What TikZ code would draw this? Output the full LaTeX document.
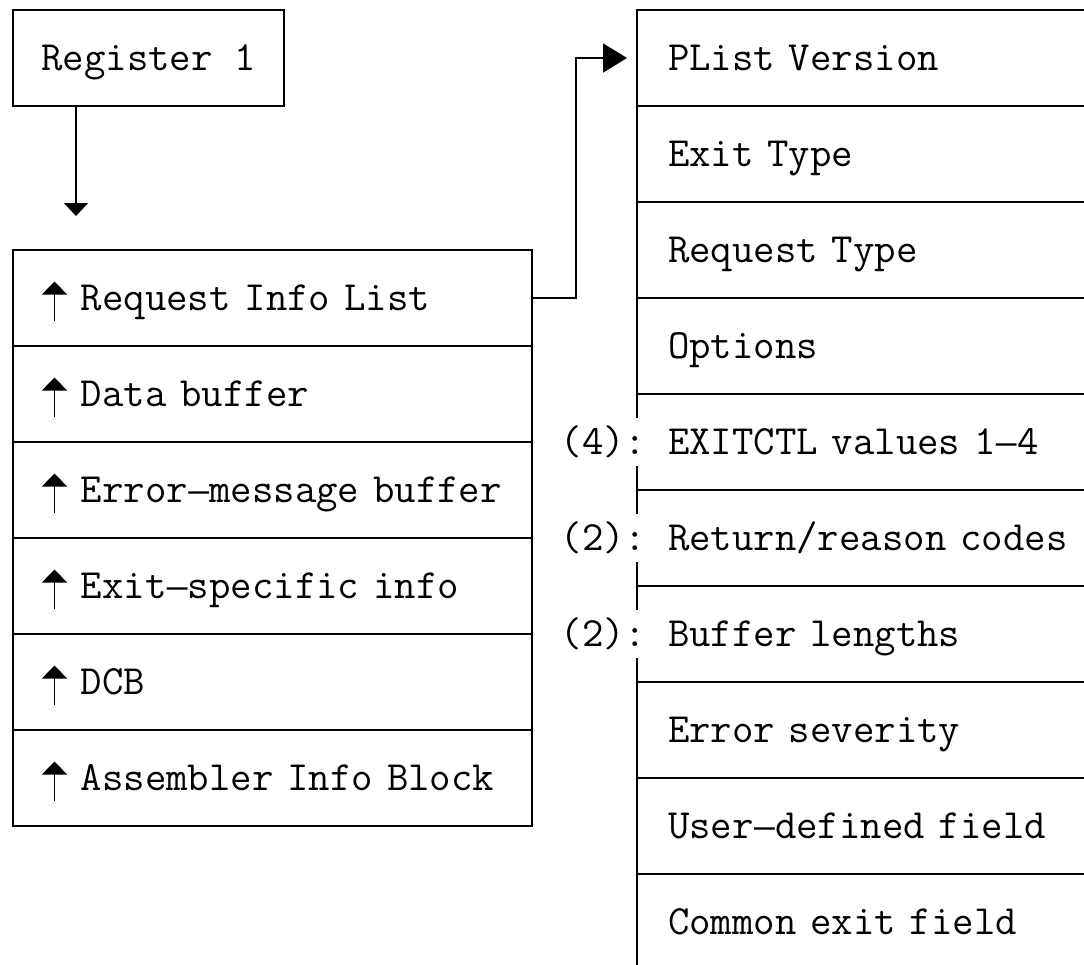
\documentclass[tikz,border=0pt]{standalone}
\usepackage{fontspec}
\usepackage{tikz}
\usetikzlibrary{arrows.meta, positioning}

\newfontfamily\dashfont{DejaVu Sans Mono}[Scale=0.83]
\newsavebox\ptrbox
\sbox\ptrbox{\tikz[baseline=0pt]\draw[line width=0.7pt, -{Triangle[width=12.5pt, length=6.5pt]}] (0,-5pt) -- (0,14.5pt);}
\newcommand{\uparr}{\makebox[2\fontcharwd\font`\a][l]{\hspace{2pt}\usebox\ptrbox}}
\newcommand{\mdash}{\makebox[\fontcharwd\font`\a]{\dashfont —}}

\begin{document}
\begin{tikzpicture}[x=0.5pt, y=-0.5pt, line width=1pt,
                font=\fontsize{20.8pt}{25pt}\selectfont\ttfamily,
                box/.style={draw, outer sep=0pt, minimum width=135.5pt,
                            minimum height=48pt, text height=12.5pt, text depth=0pt},
                lrow/.style={draw, outer sep=0pt, anchor=north west, minimum height=48pt,
                             text width=234.5pt, inner xsep=12.5pt, align=left,
                             text height=12.5pt, text depth=0pt},
                rrow/.style={draw, outer sep=0pt, anchor=north west, minimum height=48pt,
                             text width=209pt, inner xsep=15.5pt, align=left,
                             text height=12.5pt, text depth=0pt},
                count/.style={fill=white, anchor=east, inner xsep=0pt, inner ysep=5.75pt,
                              text height=12.5pt, text depth=0pt},
                ptr/.style={-{Triangle[width=12pt, length=6.5pt]}},
                bigptr/.style={-{Triangle[width=14.5pt, length=12pt]}}]
                \useasboundingbox (0,0) rectangle (1084,965);

                \node[box] (reg) at (148.5, 58) {Register 1};
                \coordinate (regtip) at (76, 216);
                \draw[ptr] (reg.south -| regtip) -- (regtip);

                \node[lrow] (req)  at (13, 250) {\uparr Request Info List};
                \node[lrow] (data) at (13, 346) {\uparr Data buffer};
                \node[lrow] (emsg) at (13, 442) {\uparr Error\mdash message buffer};
                \node[lrow] (xinf) at (13, 538) {\uparr Exit\mdash specific info};
                \node[lrow] (dcb)  at (13, 634) {\uparr DCB};
                \node[lrow] (aib)  at (13, 730) {\uparr Assembler Info Block};

                \node[rrow] (plist) at (637,  10) {PList Version};
                \node[rrow] (xtype) at (637, 106) {Exit Type};
                \node[rrow] (rtype) at (637, 202) {Request Type};
                \node[rrow] (opts)  at (637, 298) {Options};
                \node[rrow] (xctl)  at (637, 394) {EXITCTL values 1\mdash 4};
                \node[rrow] (codes) at (637, 490) {Return/reason codes};
                \node[rrow] (blen)  at (637, 586) {Buffer lengths};
                \node[rrow] (sev)   at (637, 682) {Error severity};
                \node[rrow] (user)  at (637, 778) {User\mdash defined field};
                \node[rrow] (comm)  at (637, 874) {Common exit field};

                \node[count] (nxctl)  at ([xshift=5.2pt]xctl.west)  {(4):};
                \node[count] (ncodes) at ([xshift=5.2pt]codes.west) {(2):};
                \node[count] (nblen)  at ([xshift=5.2pt]blen.west)  {(2):};

                \draw[bigptr] (req.east) -- ++(44, 0) |- ([xshift=-5pt]plist.west);
            \end{tikzpicture}
\end{document}
